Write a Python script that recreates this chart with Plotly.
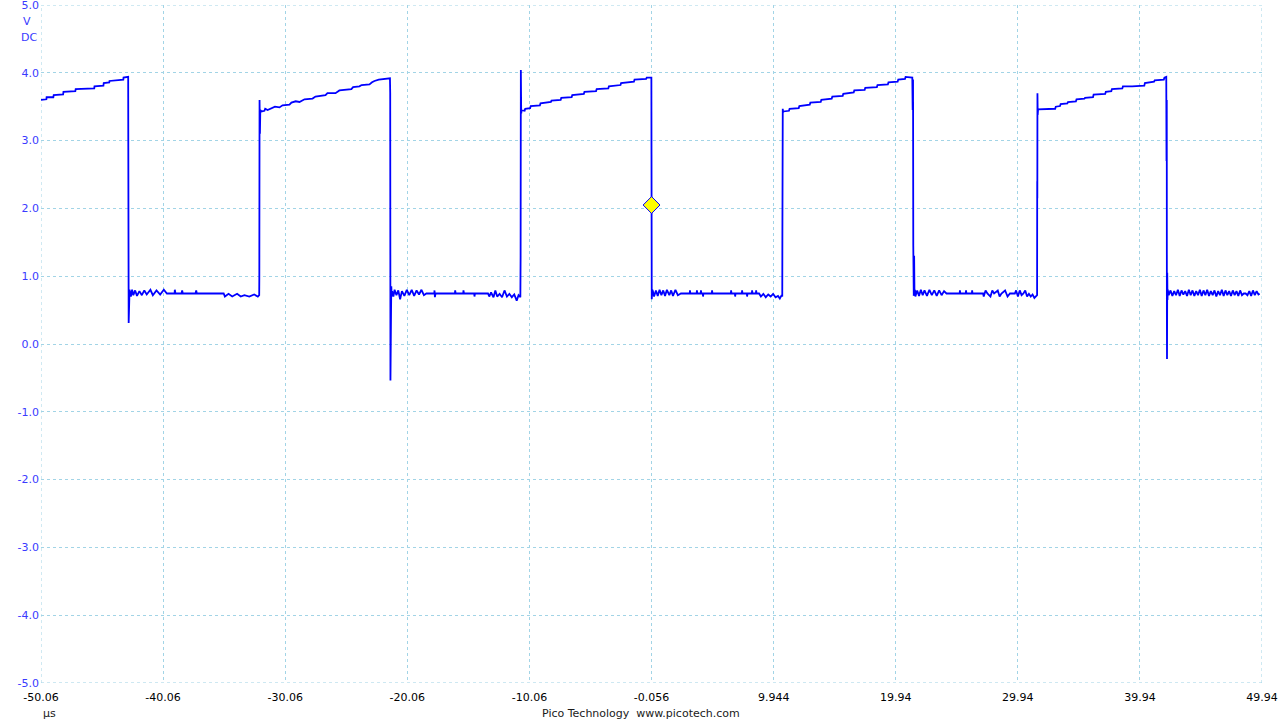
import plotly.graph_objects as go

# ---- axis ticks ----
x_tick_vals = [-50.06, -40.06, -30.06, -20.06, -10.06, -0.056, 9.944, 19.94, 29.94, 39.94, 49.94]
x_tick_text = ["-50.06", "-40.06", "-30.06", "-20.06", "-10.06", "-0.056", "9.944", "19.94", "29.94", "39.94", "49.94"]
y_tick_vals = [5, 4, 3, 2, 1, 0, -1, -2, -3, -4, -5]
y_tick_text = ["5.0", "4.0", "3.0", "2.0", "1.0", "0.0", "-1.0", "-2.0", "-3.0", "-4.0", "-5.0"]

# ---- waveform segments: [time (us), volts] ----
high_0 = [[-50.06, 3.60], [-49.62, 3.61], [-49.60, 3.64], [-49.05, 3.64], [-49.02, 3.67], [-48.25, 3.68],
          [-48.22, 3.72], [-47.25, 3.73], [-47.22, 3.76], [-45.70, 3.77], [-45.68, 3.80], [-44.95, 3.81],
          [-44.92, 3.85], [-44.47, 3.86], [-44.45, 3.88], [-43.65, 3.89], [-43.32, 3.90], [-43.30, 3.93],
          [-42.94, 3.94]]
fall_1 = [[-42.92, 3.94], [-42.91, 2.9], [-42.90, 2.5], [-42.89, 1.0], [-42.88, 0.31], [-42.86, 0.55],
          [-42.85, 0.85], [-42.83, 0.65], [-42.81, 0.80]]
low_1 = [[-42.7, 0.70], [-42.6, 0.80], [-42.5, 0.72], [-42.35, 0.79], [-42.2, 0.71], [-42.0, 0.78],
         [-41.8, 0.72], [-41.6, 0.79], [-41.4, 0.73], [-41.1, 0.80], [-40.9, 0.72], [-40.6, 0.79],
         [-40.3, 0.73], [-40.0, 0.80], [-39.75, 0.745], [-39.12, 0.745], [-39.1, 0.80], [-39.05, 0.745],
         [-38.55, 0.745], [-38.5, 0.79], [-38.45, 0.745], [-37.4, 0.745], [-37.35, 0.79], [-37.3, 0.745],
         [-35.1, 0.745], [-35.0, 0.70], [-34.7, 0.74], [-34.4, 0.70], [-34.0, 0.74], [-33.7, 0.70],
         [-33.4, 0.72], [-33.0, 0.70], [-32.6, 0.73], [-32.3, 0.70], [-32.19, 0.72]]
rise_1 = [[-32.18, 1.0], [-32.17, 2.6], [-32.16, 3.60], [-32.13, 3.10], [-32.10, 3.45]]
high_1 = [[-32.00, 3.43], [-31.76, 3.44], [-31.70, 3.47], [-31.50, 3.45], [-31.18, 3.48], [-30.9, 3.50],
          [-30.53, 3.49], [-30.28, 3.52], [-29.71, 3.53], [-29.55, 3.56], [-29.2, 3.58], [-28.89, 3.57],
          [-28.48, 3.61], [-27.82, 3.62], [-27.58, 3.65], [-26.76, 3.67], [-26.6, 3.70], [-25.94, 3.70],
          [-25.62, 3.74], [-24.9, 3.76], [-24.64, 3.76], [-24.5, 3.79], [-23.98, 3.80], [-23.8, 3.82],
          [-23.16, 3.83], [-22.95, 3.86], [-22.75, 3.88], [-22.4, 3.90], [-21.69, 3.91], [-21.6, 3.92],
          [-21.48, 3.92]]
fall_2 = [[-21.46, 3.70], [-21.45, 1.5], [-21.44, -0.54], [-21.43, 1.29], [-21.42, 0.11], [-21.41, 1.0],
          [-21.39, 0.5], [-21.37, 0.85], [-21.34, 0.70]]
low_2 = [[-21.30, 0.78], [-21.2, 0.70], [-21.1, 0.80], [-20.95, 0.72], [-20.8, 0.79], [-20.65, 0.66],
         [-20.5, 0.78], [-20.3, 0.71], [-20.1, 0.80], [-19.9, 0.72], [-19.7, 0.80], [-19.5, 0.71],
         [-19.3, 0.79], [-19.1, 0.73], [-18.9, 0.80], [-18.7, 0.72], [-18.5, 0.745], [-17.85, 0.745],
         [-17.83, 0.79], [-17.80, 0.69], [-17.75, 0.745], [-16.16, 0.745], [-16.14, 0.79], [-16.10, 0.745],
         [-15.48, 0.745], [-15.46, 0.79], [-15.42, 0.745], [-14.58, 0.745], [-14.56, 0.70], [-14.52, 0.745],
         [-13.45, 0.745], [-13.35, 0.70], [-13.2, 0.76], [-13.0, 0.69], [-12.85, 0.79], [-12.7, 0.70],
         [-12.5, 0.74], [-12.3, 0.69], [-12.1, 0.79], [-11.9, 0.70], [-11.7, 0.74], [-11.5, 0.69],
         [-11.3, 0.73], [-11.1, 0.64], [-10.95, 0.72], [-10.80, 0.69]]
rise_2 = [[-10.78, 1.3], [-10.77, 2.0], [-10.76, 4.04], [-10.75, 3.20], [-10.74, 3.9], [-10.73, 3.40]]
high_2 = [[-10.70, 3.45], [-10.45, 3.44], [-10.40, 3.47], [-10.0, 3.48], [-9.95, 3.51], [-9.2, 3.52],
          [-9.15, 3.55], [-8.3, 3.57], [-8.25, 3.59], [-7.5, 3.60], [-7.45, 3.63], [-6.6, 3.64],
          [-6.55, 3.67], [-5.6, 3.69], [-5.55, 3.72], [-4.6, 3.73], [-4.55, 3.76], [-3.6, 3.77],
          [-3.55, 3.80], [-2.6, 3.82], [-2.55, 3.85], [-1.5, 3.87], [-1.45, 3.90], [-0.5, 3.91],
          [-0.45, 3.93], [-0.07, 3.93]]
fall_3 = [[-0.06, 2.8], [-0.055, 2.2], [-0.05, 2.8], [-0.04, 0.66], [-0.03, 0.85], [-0.01, 0.68],
          [0.01, 0.80]]
low_3 = [[0.05, 0.78], [0.15, 0.70], [0.3, 0.79], [0.45, 0.71], [0.6, 0.80], [0.75, 0.72], [0.9, 0.79],
         [1.05, 0.71], [1.2, 0.80], [1.4, 0.72], [1.55, 0.79], [1.7, 0.71], [1.9, 0.80], [2.1, 0.72],
         [2.35, 0.745], [3.07, 0.745], [3.09, 0.79], [3.12, 0.745], [3.64, 0.745], [3.66, 0.79],
         [3.69, 0.745], [3.97, 0.745], [3.99, 0.79], [4.02, 0.745], [4.14, 0.745], [4.16, 0.70],
         [4.19, 0.745], [4.88, 0.745], [4.90, 0.79], [4.93, 0.745], [6.44, 0.745], [6.46, 0.79],
         [6.49, 0.745], [6.77, 0.745], [6.79, 0.70], [6.82, 0.745], [7.34, 0.745], [7.36, 0.79],
         [7.39, 0.745], [7.75, 0.745], [7.77, 0.70], [7.80, 0.745], [8.16, 0.745], [8.18, 0.79],
         [8.21, 0.745], [8.49, 0.745], [8.51, 0.79], [8.54, 0.745], [8.75, 0.745], [8.9, 0.70],
         [9.1, 0.74], [9.3, 0.69], [9.5, 0.73], [9.7, 0.70], [9.9, 0.74], [10.1, 0.69], [10.3, 0.71],
         [10.45, 0.67], [10.60, 0.72], [10.65, 0.70]]
rise_3 = [[10.66, 1.6], [10.67, 2.9], [10.68, 2.37], [10.69, 3.47], [10.71, 3.42]]
high_3 = [[10.75, 3.43], [11.2, 3.44], [11.25, 3.47], [12.0, 3.48], [12.05, 3.51], [12.9, 3.53],
          [12.95, 3.56], [13.8, 3.57], [13.85, 3.60], [14.7, 3.62], [14.75, 3.65], [15.6, 3.66],
          [15.65, 3.69], [16.5, 3.71], [16.55, 3.74], [17.4, 3.75], [17.45, 3.78], [18.4, 3.79],
          [18.45, 3.82], [19.3, 3.83], [19.35, 3.86], [20.1, 3.87], [20.15, 3.90], [20.7, 3.91],
          [20.75, 3.94], [21.30, 3.93]]
fall_4 = [[21.33, 3.45], [21.36, 3.90], [21.38, 1.45], [21.42, 0.71], [21.45, 1.3], [21.48, 0.72],
          [21.52, 0.80]]
low_4 = [[21.55, 0.70], [21.7, 0.79], [21.85, 0.71], [22.0, 0.80], [22.15, 0.72], [22.3, 0.79],
         [22.5, 0.71], [22.7, 0.80], [22.9, 0.72], [23.1, 0.79], [23.3, 0.71], [23.5, 0.79], [23.7, 0.72],
         [23.9, 0.78], [24.1, 0.745], [25.18, 0.745], [25.2, 0.79], [25.23, 0.745], [25.68, 0.745],
         [25.7, 0.79], [25.73, 0.745], [26.18, 0.745], [26.2, 0.79], [26.23, 0.745], [27.1, 0.745],
         [27.15, 0.70], [27.3, 0.79], [27.45, 0.745], [27.7, 0.70], [27.85, 0.79], [28.0, 0.745],
         [28.3, 0.79], [28.45, 0.70], [28.6, 0.745], [28.9, 0.79], [29.1, 0.70], [29.3, 0.745],
         [29.7, 0.745], [29.8, 0.79], [29.95, 0.70], [30.1, 0.79], [30.25, 0.72], [30.4, 0.745],
         [30.55, 0.79], [30.7, 0.70], [30.85, 0.74], [31.0, 0.70], [31.15, 0.73], [31.3, 0.68],
         [31.45, 0.72], [31.52, 0.72]]
rise_4 = [[31.53, 2.4], [31.54, 2.15], [31.55, 3.70], [31.57, 3.38]]
high_4 = [[31.60, 3.46], [33.0, 3.47], [33.05, 3.50], [33.4, 3.51], [33.45, 3.54], [34.0, 3.55],
          [34.05, 3.57], [34.7, 3.58], [34.75, 3.61], [35.4, 3.62], [35.45, 3.63], [36.1, 3.64],
          [36.15, 3.68], [37.1, 3.69], [37.15, 3.72], [37.6, 3.73], [37.65, 3.76], [38.5, 3.77],
          [38.55, 3.80], [39.3, 3.80], [40.3, 3.81], [40.35, 3.85], [40.7, 3.86], [41.1, 3.87],
          [41.15, 3.89], [41.9, 3.90], [41.95, 3.93], [42.10, 3.94]]
fall_5 = [[42.12, 2.7], [42.14, 3.6], [42.15, 0.5], [42.16, -0.22], [42.17, -0.09], [42.18, 1.05],
          [42.20, 0.65], [42.22, 0.80]]
low_5 = [[42.3, 0.72], [42.45, 0.79], [42.6, 0.71], [42.75, 0.78], [42.9, 0.72], [43.05, 0.80],
         [43.2, 0.71], [43.35, 0.79], [43.5, 0.73], [43.65, 0.78], [43.8, 0.71], [43.95, 0.80],
         [44.1, 0.72], [44.25, 0.79], [44.4, 0.71], [44.55, 0.78], [44.7, 0.72], [44.85, 0.80],
         [45.0, 0.71], [45.15, 0.79], [45.3, 0.72], [45.45, 0.80], [45.6, 0.71], [45.75, 0.78],
         [45.9, 0.72], [46.05, 0.79], [46.2, 0.70], [46.35, 0.78], [46.5, 0.72], [46.65, 0.80],
         [46.8, 0.71], [46.95, 0.79], [47.1, 0.72], [47.25, 0.78], [47.4, 0.71], [47.55, 0.79],
         [47.7, 0.72], [47.85, 0.78], [48.0, 0.71], [48.15, 0.79], [48.3, 0.72], [48.45, 0.745],
         [48.6, 0.745], [48.75, 0.72], [48.9, 0.78], [49.05, 0.71], [49.2, 0.79], [49.35, 0.72],
         [49.5, 0.78], [49.65, 0.73], [49.75, 0.74]]

trigger_time = [-0.056]
trigger_level = [2.05]

segments = [high_0, fall_1, low_1, rise_1, high_1, fall_2, low_2, rise_2, high_2, fall_3, low_3,
            rise_3, high_3, fall_4, low_4, rise_4, high_4, fall_5, low_5]
t_us = [p[0] for seg in segments for p in seg]
volts = [p[1] for seg in segments for p in seg]

X_MIN, X_MAX = x_tick_vals[0], x_tick_vals[-1]
Y_MIN, Y_MAX = -5, 5

GRID = "#a2d4e6"
DASH = "3px,3px"
fig = go.Figure()
fig.add_trace(go.Scatter(x=t_us, y=volts, mode="lines",
                         line=dict(color="#0000ff", width=1.8), hoverinfo="skip"))
fig.add_trace(go.Scatter(x=trigger_time, y=trigger_level, mode="markers",
                         marker=dict(symbol="diamond", size=13, color="#ffff00",
                                     line=dict(color="#0000ff", width=1)), hoverinfo="skip"))

# border grid lines (plotly drops grid lines lying exactly on the range ends)
for xv in (X_MIN, X_MAX):
    fig.add_shape(type="line", xref="x", yref="paper", x0=xv, x1=xv, y0=0, y1=1,
                  line=dict(color=GRID, width=1, dash=DASH), layer="below")
for yv in (Y_MIN, Y_MAX):
    fig.add_shape(type="line", xref="paper", yref="y", x0=0, x1=1, y0=yv, y1=yv,
                  line=dict(color=GRID, width=1, dash=DASH), layer="below")

fig.update_layout(
    width=1280, height=720,
    margin=dict(l=41, r=18, t=5, b=37, autoexpand=False),
    paper_bgcolor="white", plot_bgcolor="white",
    showlegend=False,
    font=dict(family="DejaVu Sans", size=11, color="#000000"),
    xaxis=dict(range=[X_MIN - 0.0005, X_MAX + 0.0005], tickmode="array", tickvals=x_tick_vals,
               ticktext=x_tick_text,
               showgrid=True, gridcolor=GRID, gridwidth=1, griddash=DASH,
               zeroline=False, showline=False, ticks="", automargin=False, ticklabelstandoff=6,
               ticklabeloverflow="allow",
               tickfont=dict(family="DejaVu Sans", size=11, color="#000000")),
    yaxis=dict(range=[Y_MIN - 0.0005, Y_MAX + 0.0005], tickmode="array", tickvals=y_tick_vals,
               ticktext=y_tick_text,
               showgrid=True, gridcolor=GRID, gridwidth=1, griddash=DASH,
               zeroline=False, showline=False, ticks="", automargin=False, ticklabelstandoff=1,
               ticklabeloverflow="allow",
               tickfont=dict(family="DejaVu Sans", size=11, color="#3a3aff")),
    annotations=[
        dict(text="V", xref="paper", yref="paper", x=(26.5 - 41) / 1221, y=(683 - 21) / 678,
             xanchor="center", yanchor="middle", showarrow=False,
             font=dict(family="DejaVu Sans", size=11, color="#3a3aff")),
        dict(text="DC", xref="paper", yref="paper", x=(38.5 - 41) / 1221, y=(683 - 37) / 678,
             xanchor="right", yanchor="middle", showarrow=False,
             font=dict(family="DejaVu Sans", size=11, color="#3a3aff")),
        dict(text="µs", xref="paper", yref="paper", x=(49 - 41) / 1221, y=(683 - 713) / 678,
             xanchor="center", yanchor="middle", showarrow=False,
             font=dict(family="DejaVu Sans", size=11, color="#1a1a1a")),
        dict(text="Pico Technology  www.picotech.com", xref="paper", yref="paper",
             x=(640.5 - 41) / 1221, y=(683 - 713) / 678,
             xanchor="center", yanchor="middle", showarrow=False,
             font=dict(family="DejaVu Sans", size=11, color="#1a1a1a")),
    ],
)

fig.write_html("out.html", config={"displayModeBar": False},
               post_script="document.body.style.margin='0';document.body.style.overflow='hidden';")
